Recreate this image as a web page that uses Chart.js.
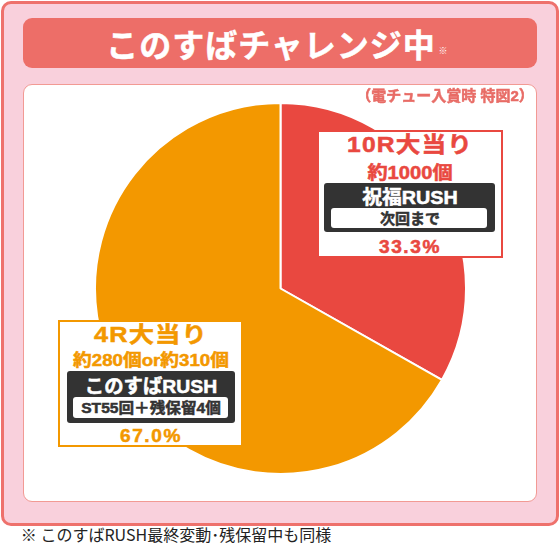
<!DOCTYPE html>
<html><head><meta charset="utf-8">
<script src="https://cdn.jsdelivr.net/npm/chart.js@4.4.1/dist/chart.umd.min.js"></script>
<style>
*{box-sizing:border-box;margin:0;padding:0}
body{width:560px;height:543px;background:#fff;position:relative;overflow:hidden;font-family:"Noto Sans CJK JP","Noto Sans",sans-serif}
.abs{position:absolute}
.t{position:absolute;white-space:nowrap;font-weight:700;line-height:1}
.lb{font-family:"Liberation Sans","Noto Sans CJK JP",sans-serif;font-weight:700}
</style></head><body>
<div class="abs" style="left:1px;top:1px;width:558px;height:525px;border:3px solid #ee716c;border-radius:10px;background:#f9d0dc"></div>
<div class="abs" style="left:23px;top:18px;width:514px;height:50px;border-radius:9px;background:#ed6e68"></div>
<div class="abs" style="left:23px;top:84px;width:514px;height:418px;border:1px solid #f29a94;border-radius:9px;background:#fff"></div>
<div id="labels"></div>
<div class="abs" style="left:94px;top:102px;width:373px;height:373px"><canvas id="c"></canvas></div>
<div id="labels2"></div>
<script>
const categories = ['10R大当り', '4R大当り'];
const payouts = ['約1000個', '約280個or約310個'];
const rushNames = ['祝福RUSH', 'このすばRUSH'];
const rushDetails = ['次回まで', 'ST55回＋残保留4個'];
const values = [33.3, 67.0];
const sliceColors = ['#e94840', '#f39800'];

new Chart(document.getElementById('c'), {
  type: 'pie',
  data: { labels: categories, datasets: [{ data: values, backgroundColor: sliceColors, borderColor: '#ffffff', borderWidth: 2 }] },
  options: {
    responsive: true, maintainAspectRatio: false, animation: false,
    layout: { padding: 0 },
    plugins: { legend: { display: false }, tooltip: { enabled: false } }
  }
});

const L = document.getElementById('labels2');
function el(html) { const d = document.createElement('div'); d.innerHTML = html; const n = d.firstChild; L.appendChild(n); return n; }
function txt(x, y, s, color, size, sx, ls, cls, extra) {
  el(`<div class="t ${cls || ''}" style="left:${x}px;top:${y}px;color:${color};font-size:${size}px;letter-spacing:${ls || 0}px;transform:translate(-50%,-50%) scaleX(${sx || 1});${extra || ''}">${s}</div>`);
}
const stroke = c => `-webkit-text-stroke:0.5px ${c};`;

txt(271, 43, 'このすばチャレンジ中', '#fff', 32, 1, 1, '', stroke('#fff'));
txt(443, 50, '※', '#fff', 9, 1, 0, '');
txt(445, 95, '（電チュー入賞時 特図2）', '#e86c66', 15, 1, 0, 'lb', stroke('#e86c66'));
txt(176, 534, '※ このすばRUSH最終変動･残保留中も同様', '#222', 16, 1, 0, '', 'font-weight:400;');

const boxes = [
  { x: 317, y: 130, w: 186, h: 128, dark: [324, 183, 171, 49], inner: [331, 208, 156, 20], ty: [145, 173, 197, 218, 247], sc: [1.12, 1.12, 1.04, 1, 1.06] },
  { x: 58, y: 320, w: 185, h: 127, dark: [67, 371, 168, 52], inner: [73, 397, 155, 21], ty: [335, 360, 386, 407, 436], sc: [1.15, 1.1, 1.02, 1.04, 1.06] }
];
boxes.forEach((b, i) => {
  const c = sliceColors[i];
  const cx = b.x + b.w / 2;
  el(`<div class="abs" style="left:${b.x}px;top:${b.y}px;width:${b.w}px;height:${b.h}px;border:2px solid ${c};background:#fff"></div>`);
  el(`<div class="abs" style="left:${b.dark[0]}px;top:${b.dark[1]}px;width:${b.dark[2]}px;height:${b.dark[3]}px;background:#333;border-radius:3px"></div>`);
  el(`<div class="abs" style="left:${b.inner[0]}px;top:${b.inner[1]}px;width:${b.inner[2]}px;height:${b.inner[3]}px;background:#fff;border-radius:3px"></div>`);
  txt(cx, b.ty[0], categories[i], c, 22, b.sc[0], 1, 'lb', stroke(c));
  txt(cx, b.ty[1], payouts[i], c, i === 0 ? 18 : 17, b.sc[1], 0, 'lb', stroke(c));
  txt(cx, b.ty[2], rushNames[i], '#fff', 19, b.sc[2], 0, 'lb', stroke('#fff'));
  txt(cx, b.ty[3], rushDetails[i], '#333', i === 0 ? 15 : 15, b.sc[3], 0, 'lb', stroke('#333'));
  txt(cx, b.ty[4], values[i].toFixed(1) + '%', c, 18, b.sc[4], 1.5, 'lb', stroke(c));
});
</script>
</body></html>
